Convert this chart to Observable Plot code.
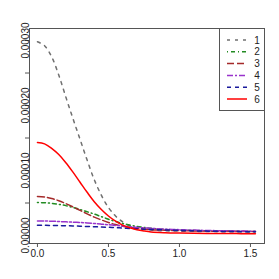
<!DOCTYPE html>
<html><head><meta charset="utf-8">
<script src="https://cdn.jsdelivr.net/npm/d3@7"></script>
<script src="https://cdn.jsdelivr.net/npm/@observablehq/plot@0.6"></script>
<style>
html,body{margin:0;padding:0;background:#fff;}
#wrap{position:relative;width:279px;height:279px;font-family:"Liberation Sans",Arial,sans-serif;}
#legend{position:absolute;left:0;top:0;}
</style></head>
<body><div id="wrap"></div>
<script>
const xs = [0, 0.05, 0.1, 0.15, 0.2, 0.25, 0.3, 0.35, 0.4, 0.45, 0.5, 0.55, 0.6, 0.65, 0.7, 0.75, 0.8, 0.9, 1.0, 1.1, 1.2, 1.3, 1.4, 1.5, 1.535];
const s1 = [298e-6, 292e-6, 275e-6, 247e-6, 213e-6, 180e-6, 148e-6, 116e-6, 86e-6, 62e-6, 43e-6, 30e-6, 21e-6, 15e-6, 11.5e-6, 9.5e-6, 8.3e-6, 7.2e-6, 6.7e-6, 6.4e-6, 6.1e-6, 5.9e-6, 5.7e-6, 5.6e-6, 5.6e-6];
const s2 = [50.7e-6, 50.4e-6, 49.5e-6, 48e-6, 46e-6, 43.2e-6, 40e-6, 36.5e-6, 33e-6, 29e-6, 25e-6, 21.5e-6, 18.5e-6, 16e-6, 14e-6, 12.4e-6, 11e-6, 9.3e-6, 8.4e-6, 7.8e-6, 7.3e-6, 6.9e-6, 6.6e-6, 6.3e-6, 6.3e-6];
const s3 = [60e-6, 59.3e-6, 57e-6, 53.5e-6, 49e-6, 44e-6, 38.6e-6, 33.3e-6, 28.3e-6, 24e-6, 20e-6, 16.9e-6, 14.3e-6, 12.4e-6, 10.9e-6, 9.9e-6, 9.0e-6, 8.1e-6, 7.5e-6, 7.1e-6, 6.8e-6, 6.5e-6, 6.3e-6, 6.1e-6, 6.1e-6];
const s4 = [22.4e-6, 22.3e-6, 22e-6, 21.5e-6, 21e-6, 20.5e-6, 20e-6, 19.3e-6, 18.5e-6, 17.5e-6, 16.5e-6, 15.5e-6, 14.5e-6, 13.5e-6, 12.5e-6, 11.7e-6, 11e-6, 9.8e-6, 9e-6, 8.3e-6, 7.7e-6, 7.3e-6, 7.0e-6, 6.7e-6, 6.7e-6];
const s5 = [15.7e-6, 15.65e-6, 15.5e-6, 15.3e-6, 15e-6, 14.7e-6, 14.3e-6, 13.9e-6, 13.5e-6, 13.1e-6, 12.7e-6, 12.1e-6, 11.5e-6, 10.9e-6, 10.3e-6, 9.8e-6, 9.3e-6, 8.5e-6, 7.8e-6, 7.2e-6, 6.7e-6, 6.3e-6, 6.0e-6, 5.8e-6, 5.8e-6];
const s6 = [143e-6, 141e-6, 134e-6, 124.5e-6, 112e-6, 97.5e-6, 82e-6, 66.5e-6, 52e-6, 40e-6, 30e-6, 22e-6, 16e-6, 12e-6, 9e-6, 7e-6, 5.5e-6, 4.3e-6, 3.7e-6, 3.3e-6, 3.1e-6, 3.0e-6, 2.9e-6, 2.8e-6, 2.8e-6];
const seriesNames = ["1", "2", "3", "4", "5", "6"];
const seriesValues = [s1, s2, s3, s4, s5, s6];
const colors = ["#707070", "#228B22", "#A52A2A", "#9932CC", "#1a1a9c", "#FF0000"];
const dashes = ["3,5", "1,3,4,3", "7,3", "6,2,2,2", "4,4", null];
const yTicks = [0, 0.00005, 0.0001, 0.00015, 0.0002, 0.00025, 0.0003];
const yLabels = [0, 0.0001, 0.0002, 0.0003];
const xTicks = [0, 0.5, 1.0, 1.5];

const rows = seriesNames.flatMap((name, i) => xs.map((x, j) => ({series: name, x, y: seriesValues[i][j]})));

const font = "\"Liberation Sans\",Arial,sans-serif";
const chart = Plot.plot({
  width: 279, height: 279,
  marginLeft: 29, marginTop: 28, marginRight: 15, marginBottom: 36,
  style: {fontFamily: font, fontSize: "10px", color: "#222", background: "#fff"},
  x: {domain: [-0.056, 1.599]},
  y: {domain: [-0.0000123, 0.0003185]},
  marks: [
    ...seriesNames.map((name, i) => Plot.line(rows.filter(r => r.series === name), {
      x: "x", y: "y", curve: "catmull-rom", stroke: colors[i], strokeWidth: 1.5,
      strokeDasharray: dashes[i] || undefined
    })),
    Plot.frame({stroke: "#555", strokeWidth: 1}),
    Plot.axisY(yTicks, {tickSize: 4, tickFormat: () => "", stroke: "#555", label: null}),
    Plot.axisY(yLabels, {tickSize: 4, tickRotate: -90, tickPadding: -3, tickFormat: d3.format(".5f"), stroke: "#555", label: null, fontSize: 10}),
    Plot.axisX(xTicks, {tickSize: 4, tickPadding: 2, tickFormat: d3.format(".1f"), stroke: "#555", label: null, fontSize: 10})
  ]
});
const wrap = document.getElementById("wrap");
wrap.appendChild(chart);

// legend overlay
const lg = d3.select(wrap).append("svg").attr("id", "legend").attr("width", 279).attr("height", 279);
lg.append("rect").attr("x", 219.5).attr("y", 28.5).attr("width", 45).attr("height", 82)
  .attr("fill", "#fff").attr("stroke", "#555");
seriesNames.forEach((name, i) => {
  const yy = 40 + i * 11.8;
  lg.append("line").attr("x1", 227).attr("x2", 247).attr("y1", yy).attr("y2", yy)
    .attr("stroke", colors[i]).attr("stroke-width", 1.5)
    .attr("stroke-dasharray", dashes[i] || null);
  lg.append("text").attr("x", 257).attr("y", yy).attr("dy", "0.35em").attr("text-anchor", "middle")
    .attr("font-family", font).attr("font-size", 10).attr("fill", "#222").text(name);
});
</script></body></html>
